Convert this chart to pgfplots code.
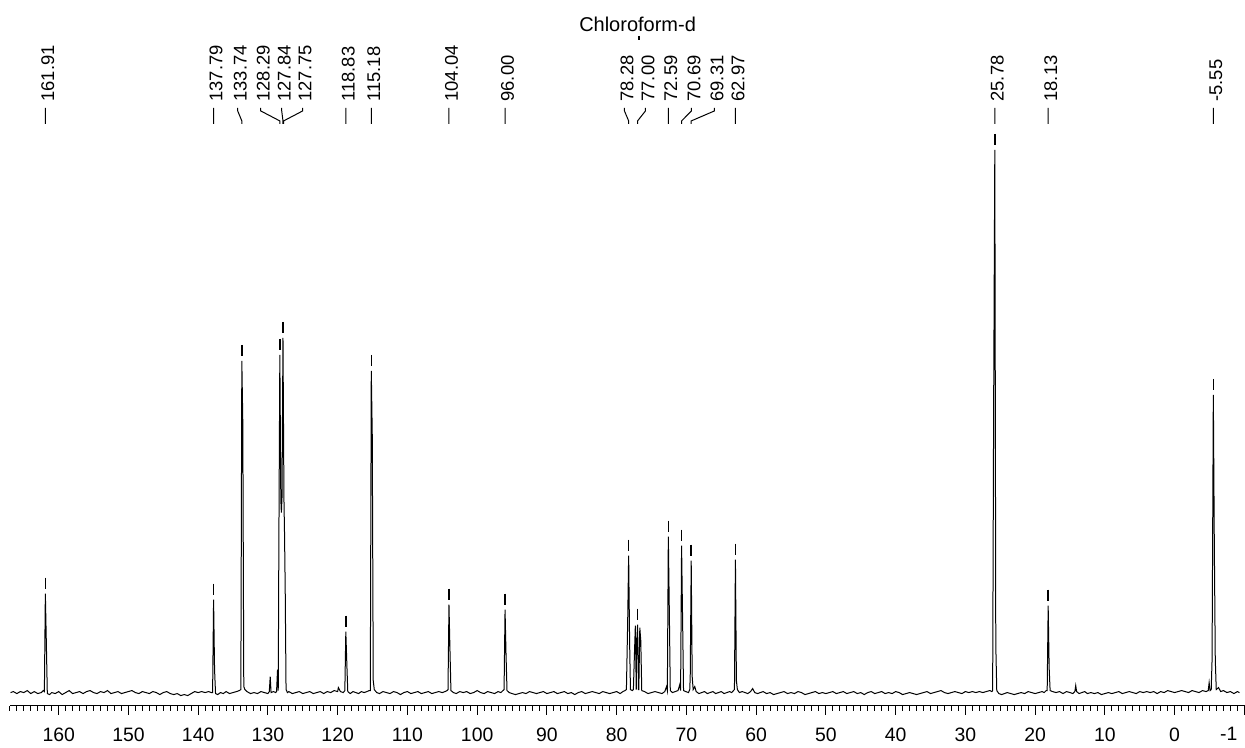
\documentclass[border=0pt]{standalone}
\usepackage{fontspec}
\setmainfont{Liberation Sans}
\usepackage{pgfplots}
\pgfplotsset{compat=1.18}

\begin{document}
\begin{tikzpicture}
\begin{axis}[
    scale only axis,
    width=622.5pt, height=353pt,
    x dir=reverse,
    xmin=-10.034, xmax=168.358,
    ymin=-13, ymax=693,
    axis x line=bottom,
    axis y line=left,
    y axis line style={draw=none, -},
    ytick=\empty,
    x axis line style={-, shorten >=5pt},
    xtick={0,10,...,160},
    minor xtick={-9,-8,...,167},
    extra x ticks={-10},
    extra x tick labels={-1},
    extra x tick style={xticklabel style={anchor=north east}},
    tick align=outside,
    major tick length=4.5pt,
    minor tick length=2.5pt,
    tick style={black, line width=0.5pt},
    xticklabel shift=3pt,
    xticklabel style={font=\fontsize{9.7}{11}\selectfont},
    /pgf/number format/assume math mode=true,
    clip=false,
    unbounded coords=jump,
]
% spectrum trace (shift in ppm, intensity in pixel units above baseline)
\addplot[black, line width=0.5pt] coordinates {
(166.9,0) (166.5,1) (166.0,-1) (165.5,1) (165.0,0) (164.5,2) (164.0,-1) (163.5,1) (163.0,-1) (162.5,0) (162.2,2)
(162.05,1) (161.91,99) (161.77,50) (161.63,-1)
(161.3,-2) (161.0,0) (160.5,-1) (160.0,1) (159.5,-2) (159.0,0) (158.5,2) (158.0,-1) (157.5,0) (157.0,1) (156.5,-1) (156.0,1)
(155.5,2) (155.0,0) (154.5,-1) (154.0,1) (153.5,0) (153.0,2) (152.5,-1) (152.0,0) (151.5,1) (151.0,-1) (150.5,0) (150.0,1)
(149.5,2) (149.0,0) (148.5,-1) (148.0,1) (147.5,0) (147.0,-1) (146.5,1) (146.0,0) (145.5,-2) (145.0,0) (144.5,1) (144.0,-1)
(143.5,-2) (143.0,-1) (142.5,-3) (142.0,-2) (141.5,-3) (141.0,-1) (140.5,1) (140.0,0) (139.5,1) (139.0,0) (138.5,1) (138.1,0)
(137.93,0) (137.79,93) (137.65,23) (137.51,-1)
(137.2,-2) (136.8,0) (136.4,-1) (136.0,1) (135.5,-1) (135.0,0) (134.5,1) (134.1,2)
(133.88,3) (133.74,332) (133.60,270) (133.46,6) (133.3,3)
(133.0,1) (132.5,-1) (132.0,0) (131.5,-1) (131.0,1) (130.5,0) (130.0,-1) (129.8,1)
(129.67,16) (129.55,0) (129.2,1) (128.9,0)
(128.76,1) (128.62,23) (128.52,2) (128.43,150) (128.29,338) (128.15,193) (128.07,180) (127.98,195) (127.84,355)
(127.70,193) (127.62,160) (127.52,103) (127.40,3) (127.2,0)
(127.0,1) (126.5,-1) (126.0,0) (125.5,1) (125.0,-1) (124.5,0) (124.0,1) (123.5,-1) (123.0,0) (122.5,1) (122.0,-1)
(121.5,1) (121.0,0) (120.5,2) (120.0,1) (119.9,5) (119.6,1) (119.2,0)
(118.97,2) (118.83,61) (118.69,30) (118.55,1)
(118.2,-1) (117.8,1) (117.4,0) (117.0,-1) (116.6,1) (116.2,0) (115.8,1) (115.5,2)
(115.32,2) (115.18,322) (115.04,258) (114.90,12) (114.75,3)
(114.4,0) (114.0,-1) (113.5,1) (113.0,0) (112.5,-1) (112.0,1) (111.5,0) (111.0,-2) (110.5,0) (110.0,1) (109.5,-1)
(109.0,0) (108.5,1) (108.0,-1) (107.5,0) (107.0,1) (106.5,-1) (106.0,0) (105.5,1) (105.0,0) (104.6,1) (104.3,2)
(104.18,3) (104.04,88) (103.90,43) (103.76,2)
(103.4,0) (103.0,-1) (102.5,1) (102.0,0) (101.5,1) (101.0,-1) (100.5,0) (100.0,2) (99.5,0) (99.0,-1) (98.5,1)
(98.0,0) (97.5,-1) (97.0,1) (96.6,0) (96.3,2)
(96.14,3) (96.00,83) (95.86,38) (95.72,2)
(95.4,0) (95.0,-1) (94.5,-2) (94.0,-1) (93.5,0) (93.0,-1) (92.5,1) (92.0,0) (91.5,-1) (91.0,0) (90.5,1) (90.0,-1)
(89.5,0) (89.0,1) (88.5,-1) (88.0,0) (87.5,1) (87.0,-1) (86.5,0) (86.0,-2) (85.5,0) (85.0,1) (84.5,-1) (84.0,0)
(83.5,1) (83.0,0) (82.5,-1) (82.0,1) (81.5,0) (81.0,-1) (80.5,0) (80.0,1) (79.5,-1) (79.1,1) (78.8,2)
(78.60,3) (78.42,70) (78.28,137) (78.14,50) (78.02,3) (77.75,2) (77.60,3) (77.46,36) (77.32,67) (77.19,3)
(77.14,45) (77.00,68) (76.87,3) (76.82,3) (76.68,65) (76.54,52) (76.40,2)
(76.0,1) (75.5,-1) (75.0,0) (74.5,1) (74.0,0) (73.5,-1) (73.1,1) (72.85,6) (72.73,2)
(72.59,156) (72.45,83) (72.31,2)
(72.0,0) (71.6,1) (71.2,2) (70.95,8) (70.83,2)
(70.69,147) (70.55,76) (70.41,2) (70.1,1) (69.7,0) (69.52,3)
(69.45,16) (69.31,132) (69.17,16) (69.03,3) (68.80,6) (68.6,1)
(68.2,-1) (67.8,0) (67.4,1) (67.0,-1) (66.6,0) (66.2,1) (65.8,-1) (65.4,0) (65.0,1) (64.6,-1) (64.2,0) (63.8,1)
(63.5,0) (63.25,2)
(63.11,3) (62.97,133) (62.83,12) (62.69,3)
(62.4,0) (62.0,1) (61.6,0) (61.2,-1) (60.8,1) (60.5,4) (60.2,0) (59.8,-1) (59.4,0) (59.0,1) (58.5,-1) (58.0,0)
(57.5,-2) (57.0,-1) (56.5,0) (56.0,1) (55.5,-1) (55.0,0) (54.5,-1) (54.0,1) (53.5,0) (53.0,-2) (52.5,-1) (52.0,0)
(51.5,1) (51.0,-1) (50.5,0) (50.0,-1) (49.5,0) (49.0,1) (48.5,-1) (48.0,0) (47.5,1) (47.0,-1) (46.5,0) (46.0,1)
(45.5,-1) (45.0,0) (44.5,-2) (44.0,0) (43.5,1) (43.0,-1) (42.5,0) (42.0,1) (41.5,-1) (41.0,0) (40.5,-1) (40.0,1)
(39.5,0) (39.0,-2) (38.5,-1) (38.0,0) (37.5,-1) (37.0,-2) (36.5,-1) (36.0,0) (35.5,1) (35.0,-1) (34.5,0) (34.0,1)
(33.5,2) (33.0,0) (32.5,-1) (32.0,0) (31.5,1) (31.0,0) (30.5,-1) (30.0,1) (29.5,0) (29.0,1) (28.5,0) (28.0,1)
(27.5,0) (27.0,1) (26.5,2) (26.2,1)
(26.09,2) (25.95,281) (25.78,543) (25.64,48) (25.50,2)
(25.2,-1) (24.8,-2) (24.4,-1) (24.0,0) (23.5,-1) (23.0,-2) (22.5,-1) (22.0,0) (21.5,-1) (21.0,1) (20.5,0) (20.0,-1)
(19.5,0) (19.0,1) (18.7,0) (18.42,2)
(18.27,2) (18.13,87) (17.99,25) (17.85,2)
(17.5,1) (17.0,0) (16.5,1) (16.0,-1) (15.5,1) (15.0,0) (14.6,-1) (14.30,1) (14.18,7) (14.05,1) (13.7,-1) (13.3,0)
(12.9,1) (12.5,-1) (12.0,0) (11.5,-1) (11.0,0) (10.5,-2) (10.0,-1) (9.5,0) (9.0,-1) (8.5,0) (8.0,1) (7.5,-1)
(7.0,0) (6.5,1) (6.0,0) (5.5,-1) (5.0,1) (4.5,0) (4.0,1) (3.5,0) (3.0,1) (2.5,-1) (2.0,1) (1.5,0) (1.0,2) (0.5,1)
(0.0,0) (-0.5,1) (-1.0,2) (-1.5,1) (-2.0,0) (-2.5,2) (-3.0,1) (-3.5,0) (-4.0,2) (-4.5,1)
(-4.82,2) (-4.95,10) (-5.08,2) (-5.25,3)
(-5.37,33) (-5.55,298) (-5.69,150) (-5.83,33) (-5.97,3)
(-6.3,5) (-6.6,1) (-7.0,2) (-7.5,0) (-8.0,1) (-8.5,-1) (-9.0,1) (-9.3,0)
};
% peak-top markers
\addplot[only marks, mark=|, mark size=2.75pt, mark options={line width=0.75pt, black}] coordinates {
(161.91,109.5) (137.79,103.5) (133.74,342.5) (128.29,348.5) (127.84,365.5) (118.83,71.5) (115.18,332.5)
(104.04,98.5) (96.00,93.5) (78.28,147.5) (77.00,78.5) (72.59,166.5) (70.69,157.5) (69.31,142.5)
(62.97,143.5) (25.78,553.5) (18.13,97.5) (-5.55,308.5)
};
% label connectors
\addplot[black, line width=0.5pt] coordinates {
(161.91,585) (161.91,569) (0,nan)
(137.79,585) (137.79,569) (0,nan)
(134.33,585) (134.33,582) (133.74,572) (133.74,569) (0,nan)
(131.03,585) (131.03,582) (128.29,572) (128.29,569) (0,nan)
(128.02,585) (128.02,582) (127.84,572) (127.84,569) (0,nan)
(125.02,585) (125.02,582) (127.75,572) (127.75,569) (0,nan)
(118.83,585) (118.83,569) (0,nan)
(115.18,585) (115.18,569) (0,nan)
(104.04,585) (104.04,569) (0,nan)
(96.00,585) (96.00,569) (0,nan)
(78.88,585) (78.88,582) (78.28,572) (78.28,569) (0,nan)
(75.87,585) (75.87,582) (77.00,572) (77.00,569) (0,nan)
(72.59,585) (72.59,569) (0,nan)
(69.28,585) (69.28,582) (70.69,572) (70.69,569) (0,nan)
(65.98,585) (65.98,582) (69.31,572) (69.31,569) (0,nan)
(62.97,585) (62.97,569) (0,nan)
(25.78,585) (25.78,569) (0,nan)
(18.13,585) (18.13,569) (0,nan)
(-5.55,585) (-5.55,569)
};
% peak labels
\addplot[draw=none, mark=none, nodes near coords, point meta=explicit symbolic,
    every node near coord/.append style={rotate=90, anchor=west, inner sep=0pt,
        font=\fontsize{9.2}{10}\selectfont}]
    table[meta=t] {
x y t
161.55 591 161.91
137.43 591 137.79
133.97 591 133.74
130.67 591 128.29
127.66 591 127.84
124.66 591 127.75
118.47 591 118.83
114.82 591 115.18
103.68 591 104.04
95.64 591 96.00
78.52 591 78.28
75.51 591 77.00
72.23 591 72.59
68.92 591 70.69
65.62 591 69.31
62.61 591 62.97
25.42 591 25.78
17.77 591 18.13
-5.91 591 -5.55
};
% solvent label
\addplot[draw=none, mark=none, nodes near coords, point meta=explicit symbolic,
    every node near coord/.append style={anchor=center, inner sep=0pt,
        font=\fontsize{10}{12}\selectfont}]
    table[meta=t] {
x y t
77.0 669 Chloroform-d
};
\addplot[only marks, mark=|, mark size=1pt, mark options={line width=0.6pt, black}] coordinates {(76.8,655)};
\end{axis}
\end{tikzpicture}
\end{document}
